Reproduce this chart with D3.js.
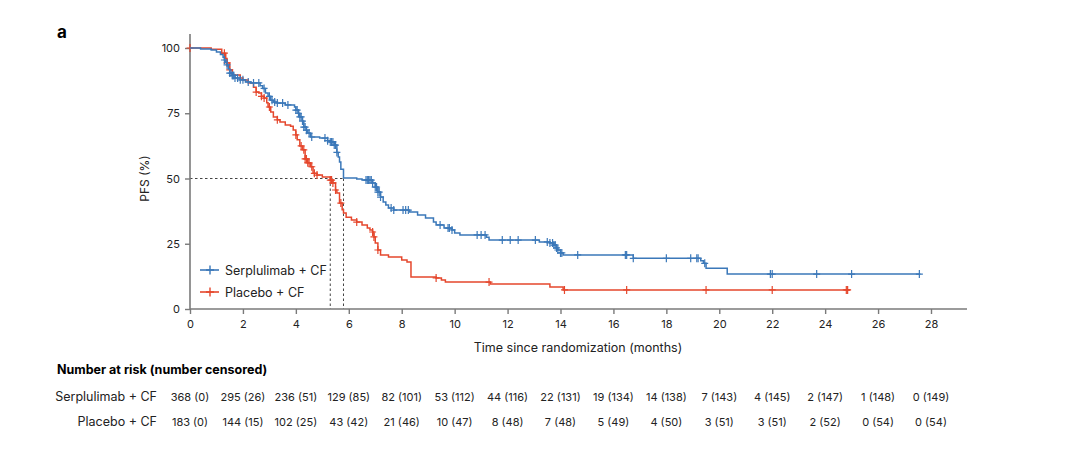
<!DOCTYPE html>
<html><head><meta charset="utf-8">
<script src="https://cdn.jsdelivr.net/npm/d3@7"></script>
<style>
body{margin:0;background:#fff;}
text{font-family:Inter,"Noto Sans",sans-serif;fill:#222;}
</style></head>
<body>
<svg id="c" width="1080" height="452"></svg>
<script>
// ---- data ----
const xTicks = [0,2,4,6,8,10,12,14,16,18,20,22,24,26,28];
const yTicks = [0,25,50,75,100];
const seriesNames = ["Serplulimab + CF","Placebo + CF"];

const serpTimes = [0,0.4,0.8,1.0,1.15,1.25,1.3,1.35,1.4,1.45,1.5,1.6,1.7,1.9,2.1,2.3,2.65,2.75,2.85,2.95,3.05,3.15,3.3,3.6,3.95,4.0,4.1,4.15,4.25,4.3,4.4,4.45,4.55,4.9,5.2,5.3,5.45,5.55,5.6,5.65,5.7,5.8,6.3,6.5,6.9,7.0,7.1,7.2,7.3,7.4,7.5,7.7,8.3,8.6,8.9,9.2,9.3,9.6,9.9,10.0,10.2,11.2,11.3,13.2,13.6,13.75,13.85,13.9,14.0,14.1,16.75,19.3,19.4,19.5,20.3];
const serpSurv  = [100,99.6,99.2,98.5,97.5,96.5,95.4,94.5,93.5,92,90.4,89.5,88.5,87.8,87,86.6,85.5,84.5,82.8,81.5,80,79.3,78.9,78.2,77.4,76.2,75,73.6,72,69.7,68.5,67.4,65.9,65.5,64.5,64,62.8,60,58.2,56.3,53.5,50.2,49.8,49.4,48.3,46.7,44.8,42.9,41,39.8,38.7,37.9,37.2,36,34.9,33.3,32.2,31,30.3,29.1,28.4,27.5,26.4,25.7,25.3,24.5,23.4,22.6,21.5,20.7,19.4,18.5,17.5,15.6,13.4];
const serpEnd = 27.6;
const serpCensor = [1.3,1.4,1.5,1.55,1.6,1.65,1.7,1.8,1.9,2.0,2.2,2.4,2.6,2.8,3.0,3.1,3.2,3.3,3.5,3.7,4.0,4.05,4.1,4.15,4.2,4.25,4.3,4.35,4.4,4.5,4.6,5.1,5.2,5.3,5.35,5.4,5.45,5.5,5.55,6.65,6.7,6.75,6.8,6.85,6.9,7.0,7.05,7.1,7.15,7.2,7.6,7.7,8.05,8.15,8.25,9.45,9.75,9.8,9.9,10.85,11.0,11.15,11.8,12.1,12.4,13.05,13.5,13.6,13.7,13.75,13.8,13.85,13.9,14.0,14.05,14.65,16.45,16.5,16.75,18.0,18.92,19.15,19.2,19.45,21.93,22.0,23.68,25.0,27.56];

const placTimes = [0,0.8,1.2,1.35,1.4,1.5,1.6,1.9,2.0,2.2,2.4,2.5,2.6,2.7,2.8,2.9,2.95,3.05,3.15,3.3,3.4,3.6,3.8,3.9,4.0,4.05,4.15,4.25,4.35,4.45,4.55,4.65,4.8,5.0,5.3,5.4,5.5,5.55,5.65,5.75,5.8,5.9,6.1,6.3,6.5,6.7,6.8,6.9,6.95,7.0,7.1,7.2,7.5,8.0,8.2,8.35,9.3,9.5,9.65,11.35,13.6,14.1];
const placSurv  = [100,99.5,98,96,94.3,91.6,89.7,88.5,87.7,86.6,85,83.1,82.8,81.5,80.8,79,77.4,75.5,73.6,72.5,71.6,70.5,70,68.6,66.7,64.8,62.5,61,57.5,56,54.5,52,51.3,50.6,49.4,48.3,45.6,44.4,40.6,38,36.8,35.2,34.1,33.3,32.2,31,30.3,29.5,27.6,25.3,22.6,20.7,19.9,18.8,18,12.3,11.9,11.1,10.3,9.6,8.4,7.3];
const placEnd = 24.95;
const placCensor = [0,1.3,1.4,1.5,2.5,2.7,2.8,3.0,3.3,4.0,4.2,4.3,4.35,4.4,4.45,4.5,4.6,4.7,4.8,5.3,5.35,5.4,5.5,5.7,6.3,6.9,6.95,7.1,9.3,11.3,14.15,16.5,19.5,22.0,24.8,24.85];

const medians = [5.8, 5.3];

const riskSerp = ["368 (0)","295 (26)","236 (51)","129 (85)","82 (101)","53 (112)","44 (116)","22 (131)","19 (134)","14 (138)","7 (143)","4 (145)","2 (147)","1 (148)","0 (149)"];
const riskPlac = ["183 (0)","144 (15)","102 (25)","43 (42)","21 (46)","10 (47)","8 (48)","7 (48)","5 (49)","4 (50)","3 (51)","3 (51)","2 (52)","0 (54)","0 (54)"];

// ---- drawing ----
const svg = d3.select("#c");
const colors = ["#3b78b9","#e5472d"];
const x = d3.scaleLinear().domain([0,28]).range([190,931]);
const y = d3.scaleLinear().domain([0,100]).range([309,48]);
const axisColor = "#7a7a7a";

// panel letter
svg.append("text").attr("x",57).attr("y",38).attr("font-size",17).attr("font-weight",700).style("fill","#000").text("a");

// median dashed lines
const dash = svg.append("g").attr("stroke","#444").attr("stroke-width",1).attr("stroke-dasharray","2.5,2.5").attr("fill","none");
dash.append("line").attr("x1",x(0)).attr("x2",x(medians[0])).attr("y1",y(50)).attr("y2",y(50));
medians.forEach(m=>dash.append("line").attr("x1",x(m)).attr("x2",x(m)).attr("y1",y(50)).attr("y2",y(0)));

// axes
const yAxis = svg.append("g").attr("transform",`translate(${x(0)},0)`)
  .call(d3.axisLeft(y).tickValues(yTicks).tickSize(5).tickPadding(5));
yAxis.select(".domain").remove();
yAxis.append("line").attr("x1",0).attr("x2",0).attr("y1",34).attr("y2",y(0)).attr("stroke",axisColor).attr("stroke-width",1.6);
const xAxis = svg.append("g").attr("transform",`translate(0,${y(0)})`)
  .call(d3.axisBottom(x).tickValues(xTicks).tickSize(5).tickPadding(6));
xAxis.select(".domain").remove();
xAxis.append("line").attr("x1",x(0)).attr("x2",967).attr("y1",0).attr("y2",0).attr("stroke",axisColor).attr("stroke-width",1.6);
[yAxis,xAxis].forEach(g=>{
  g.selectAll(".tick line").attr("stroke",axisColor).attr("stroke-width",1.4);
  g.selectAll(".tick text").attr("font-size",11).style("fill","#222").attr("font-family","Inter, 'Noto Sans', sans-serif");
});

svg.append("text").attr("transform",`translate(149,${y(50)}) rotate(-90)`).attr("text-anchor","middle").attr("font-size",12).text("PFS (%)");
svg.append("text").attr("x",578).attr("y",352).attr("text-anchor","middle").attr("font-size",12.5).text("Time since randomization (months)");

// curves
function stepPath(times, surv, end){
  const pts = times.map((t,i)=>[t,surv[i]]);
  pts.push([end, surv[surv.length-1]]);
  return d3.line().x(d=>x(d[0])).y(d=>y(d[1])).curve(d3.curveStepAfter)(pts);
}
function survAt(times, surv, t){
  let v = surv[0];
  for(let i=0;i<times.length;i++){ if(times[i]<=t) v=surv[i]; else break; }
  return v;
}
const sets = [
  {t:serpTimes,s:serpSurv,e:serpEnd,c:serpCensor},
  {t:placTimes,s:placSurv,e:placEnd,c:placCensor}
];
// draw placebo first then serplulimab on top
[1,0].forEach(k=>{
  const d = sets[k];
  const g = svg.append("g");
  g.append("path").attr("d",stepPath(d.t,d.s,d.e)).attr("fill","none").attr("stroke",colors[k]).attr("stroke-width",1.5);
  g.selectAll("path.cm").data(d.c).join("path").attr("class","cm")
    .attr("d",t=>{const cx=x(t), cy=y(survAt(d.t,d.s,t)); return `M${cx-3.5},${cy}H${cx+3.5}M${cx},${cy-4}V${cy+4}`;})
    .attr("stroke",colors[k]).attr("stroke-width",1.2).attr("fill","none");
});

// legend
seriesNames.forEach((n,i)=>{
  const ly = 270 + i*22;
  svg.append("line").attr("x1",200).attr("x2",219).attr("y1",ly).attr("y2",ly).attr("stroke",colors[i]).attr("stroke-width",1.6);
  svg.append("path").attr("d",`M206,${ly}H214M210,${ly-4.5}V${ly+4.5}`).attr("stroke",colors[i]).attr("stroke-width",1.4);
  svg.append("text").attr("x",225).attr("y",ly+4.5).attr("font-size",12.5).text(n);
});

// at-risk table
svg.append("text").attr("x",57).attr("y",374).attr("font-size",12.5).attr("font-weight",700).style("fill","#000").text("Number at risk (number censored)");
[riskSerp, riskPlac].forEach((row,i)=>{
  const ry = 401 + i*25;
  svg.append("text").attr("x",157).attr("y",ry).attr("text-anchor","end").attr("font-size",12.5).text(seriesNames[i]);
  svg.selectAll(null).data(row).join("text").attr("x",(d,j)=>x(xTicks[j])).attr("y",ry)
    .attr("text-anchor","middle").attr("font-size",11).text(d=>d);
});
</script>
</body></html>
